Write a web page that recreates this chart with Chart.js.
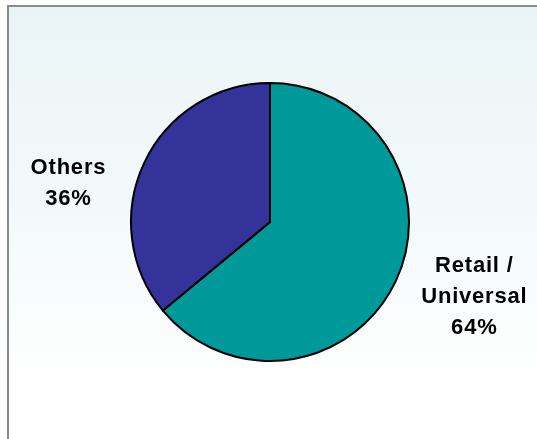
<!DOCTYPE html>
<html>
<head>
<meta charset="utf-8">
<script src="https://cdn.jsdelivr.net/npm/chart.js@4/dist/chart.umd.min.js"></script>
<style>
  html, body { margin: 0; padding: 0; background: #ffffff; }
  #wrap { position: relative; width: 537px; height: 439px; overflow: hidden; }
  #frame {
    position: absolute; left: 7px; top: 5px; right: -10px; bottom: -10px;
    border-left: 2px solid #8a8a8a; border-top: 2px solid #8a8a8a;
    background: linear-gradient(to bottom, #eaf4f6 0px, #f3f9fa 200px, #ffffff 380px);
  }
  #pieChart { position: absolute; left: 0; top: 0; }
</style>
</head>
<body>
<div id="wrap">
  <div id="frame"></div>
  <canvas id="pieChart" width="537" height="439"></canvas>
</div>
<script>
// Fatias do gráfico
const categories = [['Retail /', 'Universal'], ['Others']];
const shares = [64, 36];
const sliceColors = ['#009999', '#333399'];

// Rótulos fora da pizza (deslocamento em raios a partir do centro)
const labelOffsets = [[1.47, 0.54], [-1.45, -0.28]];

const outsideLabels = {
    id: 'outsideLabels',
    afterDatasetsDraw(chart) {
        const ctx = chart.ctx;
        const arc = chart.getDatasetMeta(0).data[0];
        const cx = arc.x, cy = arc.y, r = arc.outerRadius;
        ctx.save();
        ctx.font = 'bold 22px "Liberation Sans", Arial, sans-serif';
        ctx.letterSpacing = '0.8px';
        ctx.fillStyle = '#000000';
        ctx.textAlign = 'center';
        ctx.textBaseline = 'middle';
        const lineH = 31;
        categories.forEach((lines, i) => {
            const all = lines.concat([shares[i] + '%']);
            const x = cx + labelOffsets[i][0] * r;
            const y0 = cy + labelOffsets[i][1] * r - (all.length - 1) * lineH / 2;
            all.forEach((t, k) => ctx.fillText(t, x, y0 + k * lineH));
        });
        ctx.restore();
    }
};

const pieCtx = document.getElementById('pieChart').getContext('2d');
const pieChart = new Chart(pieCtx, {
    type: 'pie',
    data: {
        labels: categories.map(l => l.join(' ')),
        datasets: [{
            data: shares,
            backgroundColor: sliceColors,
            borderColor: '#000000',
            borderWidth: 2,
            borderJoinStyle: 'miter'
        }]
    },
    options: {
        responsive: false,
        animation: false,
        layout: { padding: { left: 130, right: 127, top: 82, bottom: 77 } },
        plugins: {
            legend: { display: false },
            tooltip: { enabled: false }
        }
    },
    plugins: [outsideLabels]
});
</script>
</body>
</html>
